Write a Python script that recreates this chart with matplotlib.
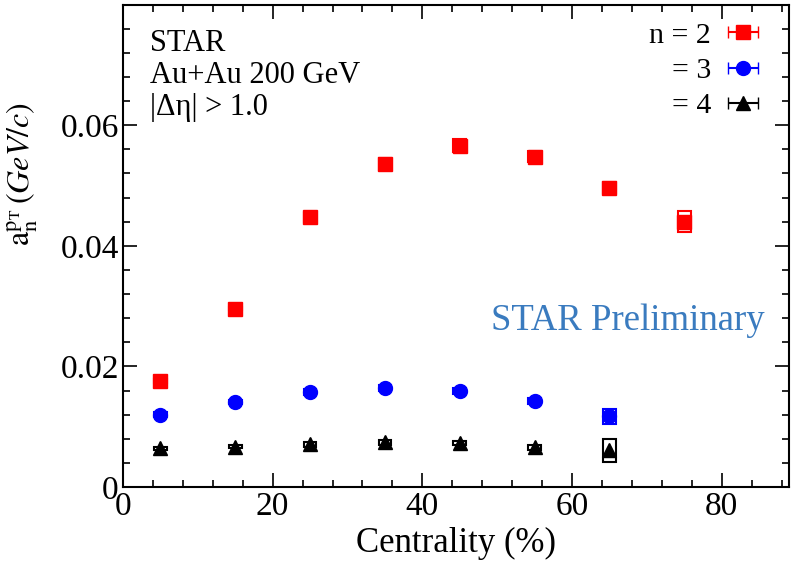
#!/usr/bin/env python3

import matplotlib
matplotlib.use("Agg")
import matplotlib.pyplot as plt
from matplotlib.patches import Rectangle
from matplotlib.ticker import MultipleLocator, FuncFormatter

# centrality bin centres (%)
cent = [5, 15, 25, 35, 45, 55, 65, 75]

# a_n^{pT} values and systematic half-heights
a2 = [0.0176, 0.0296, 0.0447, 0.0535, 0.0566, 0.0548, 0.0496, 0.0440]
a2_sys = [0.0003, 0.0003, 0.0008, 0.0010, 0.0011, 0.0009, 0.0009, 0.0017]
a3 = [0.0120, 0.0141, 0.0158, 0.0164, 0.0159, 0.0143, 0.0117]
a3_sys = [0.0004, 0.0004, 0.0005, 0.0005, 0.0005, 0.0005, 0.0012]
a4 = [0.0064, 0.0067, 0.0071, 0.0074, 0.0073, 0.0066, 0.0061]
a4_sys = [0.0003, 0.0003, 0.0004, 0.0004, 0.0004, 0.0004, 0.0019]

plt.rcParams['font.family'] = ['Liberation Serif', 'DejaVu Serif']
plt.rcParams['mathtext.fontset'] = 'stix'


def draw_sys(ax, x, y, s, color):
    for xi, yi, si in zip(x, y, s):
        ax.add_patch(Rectangle((xi - 0.85, yi - si), 1.7, 2 * si, fill=False,
                               edgecolor=color, lw=1.5, zorder=2))


def main():
    fig = plt.figure(figsize=(8.06, 5.69), dpi=100)
    ax = fig.add_axes([0.1526, 0.144, 0.8264, 0.847])

    draw_sys(ax, cent, a2, a2_sys, 'red')
    draw_sys(ax, cent[:7], a3, a3_sys, 'blue')
    draw_sys(ax, cent[:7], a4, a4_sys, 'black')

    h2 = ax.errorbar(cent, a2, xerr=0, fmt='s', color='red', ms=10,
                     capsize=4, elinewidth=1.5, zorder=3)
    h3 = ax.errorbar(cent[:7], a3, xerr=0, fmt='o', color='blue', ms=10,
                     capsize=4, elinewidth=1.5, zorder=3)
    h4 = ax.errorbar(cent[:7], a4, xerr=0, fmt='^', color='black', ms=10,
                     capsize=4, elinewidth=1.5, zorder=3)

    ax.legend([h2, h3, h4], ['n = 2', '= 3', '= 4'], loc='upper right',
              frameon=False, markerfirst=False, fontsize=21.5, handlelength=1.6,
              handletextpad=0.25, labelspacing=0.28, borderaxespad=0.0,
              bbox_to_anchor=(0.984, 0.99))

    ax.set_xlim(0, 89)
    ax.set_ylim(0, 0.0799)
    ax.xaxis.set_major_locator(MultipleLocator(20))
    ax.xaxis.set_minor_locator(MultipleLocator(4))
    ax.yaxis.set_major_locator(MultipleLocator(0.02))
    ax.yaxis.set_minor_locator(MultipleLocator(0.004))
    ax.yaxis.set_major_formatter(FuncFormatter(
        lambda v, p: '0' if abs(v) < 1e-9 else f'{v:.2f}'))
    ax.tick_params(which='both', direction='in', top=True, right=True,
                   labelsize=24, width=1.2)
    ax.tick_params(which='major', length=10)
    ax.tick_params(which='minor', length=5)
    ax.tick_params(axis='x', pad=3)
    ax.tick_params(axis='y', pad=3)
    for sp in ax.spines.values():
        sp.set_linewidth(1.5)

    ax.set_xlabel('Centrality (%)', fontsize=25, labelpad=4)
    ax.set_ylabel(r'$\mathrm{a}_{\mathrm{n}}^{\mathrm{p}_{\mathrm{T}}}$'
                  r'$\,\mathit{(GeV/c)}$', fontsize=23)
    ax.yaxis.set_label_coords(-0.125, 0.65)

    ax.text(0.0405, 0.921, 'STAR', transform=ax.transAxes, fontsize=22,
            va='center')
    ax.text(0.0405, 0.855, 'Au+Au 200 GeV', transform=ax.transAxes,
            fontsize=22, va='center')
    ax.text(0.0405, 0.788, '|Δη| > 1.0', transform=ax.transAxes,
            fontsize=22, va='center')
    ax.text(0.964, 0.346, 'STAR Preliminary', transform=ax.transAxes,
            fontsize=26.5, color='#3a7bbf', ha='right', va='center')

    fig.savefig('out.png', dpi=100)


if __name__ == '__main__':
    main()
